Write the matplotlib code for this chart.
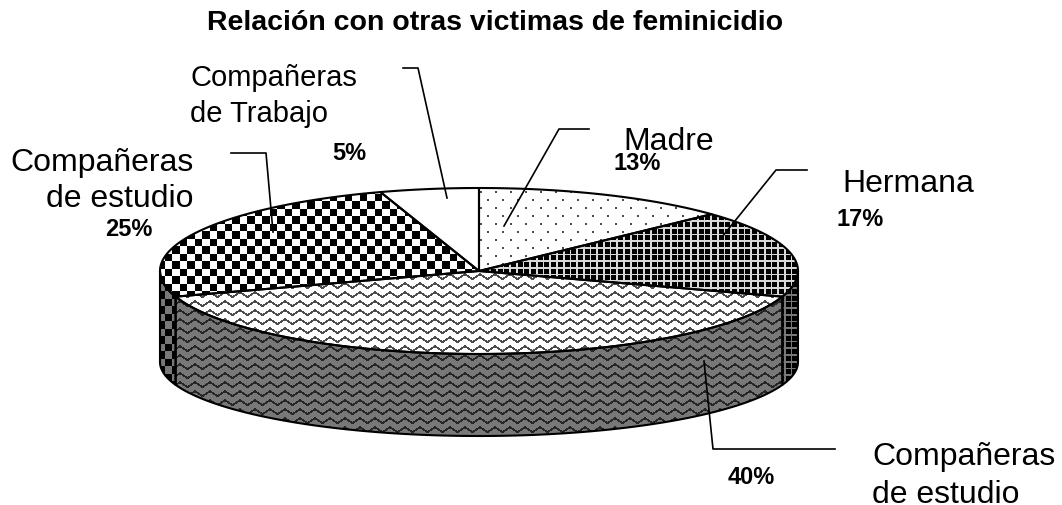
import numpy as np
import matplotlib
matplotlib.use("Agg")
import matplotlib.pyplot as plt
from matplotlib.patches import Polygon

plt.rcParams['font.family'] = ['Liberation Sans', 'DejaVu Sans']

title = "Relación con otras victimas de feminicidio"
labels = ["Madre", "Hermana", "Compañeras\nde estudio", "Compañeras\nde estudio", "Compañeras\nde Trabajo"]
shares = [13, 17, 40, 25, 5]
pct_labels = ["13%", "17%", "40%", "25%", "5%"]

# pie geometry in pixels of the picture
cx, cy, rx, ry = 479, 272, 319, 83
cy2, ry2 = 363, 74
W, H = 1062, 506

X, Y = np.meshgrid(np.arange(W) + 0.5, np.arange(H) + 0.5)


def dots(bg=1.0, fg=0.3):
    row = np.floor(Y / 8)
    on = ((X + 7.5 * (row % 2)) % 15 < 2) & (Y % 8 < 2)
    return np.where(on, fg, bg)


def grid(bg=0.0, fg=0.85):
    on = (X % 6.7 < 1.7) | (Y % 6.7 < 1.7)
    return np.where(on, fg, bg)


def checks(a=0.0, b=1.0):
    on = (np.floor(X / 7.5) + np.floor(Y / 7.5)) % 2 == 0
    return np.where(on, a, b)


def waves(bg=1.0, fg=0.3):
    tri = np.abs((X % 15) / 7.5 - 1) * 5
    on = (Y + tri) % 9 < 2.2
    return np.where(on, fg, bg)


top_tex = [dots(), grid(), waves(), checks(), np.ones((H, W))]
side_tex = [None, grid(0.0, 0.47), waves(0.47, 0.15), checks(0.0, 0.47), None]


def top_point(t, c=cy, r=ry):
    return rx * np.sin(t) + cx, c - r * np.cos(t)


fig = plt.figure(figsize=(10.62, 5.06), dpi=100)
ax = fig.add_axes([0, 0, 1, 1])
ax.set_xlim(0, W)
ax.set_ylim(H, 0)
ax.axis("off")


def fill(points, tex):
    poly = Polygon(points, closed=True, fc="none", ec="black", lw=1.5, joinstyle="round", zorder=3)
    ax.add_patch(poly)
    im = ax.imshow(tex, cmap="gray", vmin=0, vmax=1, extent=(0, W, H, 0), interpolation="nearest", zorder=2, aspect="auto")
    im.set_clip_path(poly)


edges = np.radians(np.cumsum([0] + shares) * 3.6)

# side walls, only the part facing the viewer
for i in range(len(shares)):
    a = max(edges[i], np.pi / 2)
    b = min(edges[i + 1], 3 * np.pi / 2)
    if a >= b:
        continue
    t = np.linspace(a, b, 120)
    x1, y1 = top_point(t)
    x2, y2 = top_point(t[::-1], cy2, ry2)
    fill(np.column_stack([np.r_[x1, x2], np.r_[y1, y2]]), side_tex[i])

# top face
for i in range(len(shares)):
    t = np.linspace(edges[i], edges[i + 1], 120)
    x1, y1 = top_point(t)
    fill(np.column_stack([np.r_[cx, x1], np.r_[cy, y1]]), top_tex[i])

# leader lines
leaders = [
    [(504, 227), (559, 130), (589, 130)],
    [(722, 238), (776, 171), (807, 171)],
    [(704, 362), (713, 450), (835, 450)],
    [(273, 233), (266, 154), (231, 154)],
    [(447, 199), (418, 69), (403, 69)],
]
for pts in leaders:
    p = np.array(pts)
    ax.plot(p[:, 0], p[:, 1], color="black", lw=1.2, zorder=5)

ax.text(495, 30, title, fontsize=20.5, fontweight="bold", ha="center", va="baseline")

# x, anchor, first baseline, line pitch, size for each name
name_x = [623, 842, 872, 194, 190]
name_ha = ["left", "left", "left", "right", "left"]
name_y = [150, 192, 465, 171, 86]
name_pitch = [0, 0, 38, 36, 36]
name_size = [23, 23, 23, 23, 21]
pct_x = [637, 860, 751, 129, 349]
pct_y = [170, 226, 484, 236, 160]

for i in range(len(labels)):
    for j, line in enumerate(labels[i].split("\n")):
        ax.text(name_x[i], name_y[i] + j * name_pitch[i], line, fontsize=name_size[i], ha=name_ha[i], va="baseline", zorder=6)
    ax.text(pct_x[i], pct_y[i], pct_labels[i], fontsize=17, fontweight="bold", ha="center", va="baseline", zorder=6)

fig.savefig("out.png", dpi=100)
